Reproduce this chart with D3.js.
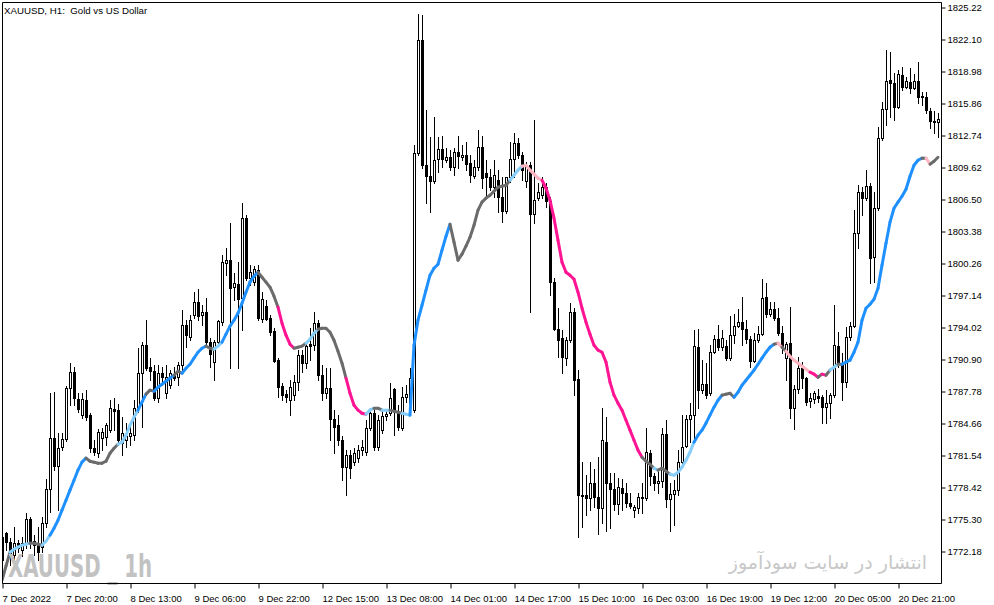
<!DOCTYPE html>
<html><head><meta charset="utf-8">
<script src="https://cdn.jsdelivr.net/npm/d3@7"></script>
<style>html,body{margin:0;padding:0;background:#fff;}svg{display:block;}</style>
</head><body>
<svg id="chart" width="994" height="605"></svg>
<script>
// ---- data (XAUUSD H1, 235 bars) ----
const open = [
1771.33,1773.96,1773.09,1771.82,1772.99,1772.31,1772.99,1775.33,1773.18,1772.79,
1772.60,1774.94,1778.25,1783.23,1780.50,1782.35,1783.13,1788.10,1789.66,1787.03,
1785.47,1786.93,1785.47,1782.25,1781.76,1783.23,1783.32,1784.01,1786.05,1785.96,
1782.74,1783.03,1783.42,1783.52,1786.15,1789.56,1792.29,1790.15,1789.76,1787.13,
1789.56,1787.61,1788.39,1789.47,1789.17,1790.34,1794.24,1793.07,1795.22,1796.49,
1795.22,1795.51,1792.59,1790.64,1792.59,1794.54,1800.29,1800.58,1797.95,1798.24,
1796.88,1804.68,1798.83,1798.44,1799.61,1794.83,1796.10,1794.93,1793.66,1790.83,
1788.30,1787.52,1786.93,1787.42,1788.69,1791.32,1790.54,1792.39,1792.29,1794.44,
1789.37,1787.61,1788.10,1785.08,1784.49,1783.03,1780.40,1781.57,1780.89,1781.28,
1782.06,1781.86,1784.20,1785.66,1782.35,1784.01,1785.37,1785.66,1788.00,1785.66,
1784.20,1787.22,1786.64,1785.96,1811.01,1822.03,1809.84,1808.77,1808.28,1810.43,
1811.40,1810.33,1810.62,1809.65,1811.11,1810.62,1810.82,1810.04,1808.77,1809.65,
1811.60,1809.06,1808.67,1807.70,1808.38,1806.72,1805.36,1808.67,1810.43,1811.99,
1810.82,1808.28,1809.84,1805.07,1806.63,1806.92,1807.70,1806.33,1798.44,1793.85,
1792.98,1791.03,1792.78,1795.51,1788.98,1777.67,1777.67,1777.38,1778.84,1777.47,
1776.40,1782.84,1778.84,1778.25,1776.79,1778.35,1777.86,1776.89,1776.21,1776.40,
1777.47,1777.38,1781.76,1779.52,1778.84,1779.03,1783.62,1777.28,1777.77,1778.16,
1780.89,1782.45,1785.08,1785.47,1792.10,1787.91,1788.49,1787.61,1791.61,1792.88,
1792.10,1792.20,1791.03,1793.27,1794.15,1794.54,1793.85,1792.88,1790.73,1792.78,
1793.37,1796.97,1795.32,1795.80,1794.93,1793.46,1791.03,1792.49,1786.15,1788.00,
1790.05,1789.08,1786.83,1787.03,1787.32,1787.22,1786.25,1786.64,1787.42,1792.20,
1790.54,1788.69,1793.07,1794.15,1803.21,1807.21,1806.63,1807.80,1800.87,1805.65,
1812.48,1815.30,1818.13,1817.84,1815.50,1818.62,1817.45,1817.94,1817.35,1818.03,
1816.57,1816.47,1815.11,1814.13,1814.04];
const high = [
1774.26,1774.06,1773.48,1774.55,1773.28,1773.57,1775.91,1775.52,1773.77,1774.55,
1775.52,1779.23,1787.61,1787.71,1783.71,1783.71,1788.30,1790.54,1790.15,1787.61,
1787.61,1787.91,1785.66,1783.03,1784.10,1784.20,1784.69,1786.93,1787.13,1786.54,
1785.27,1784.69,1784.30,1786.93,1792.00,1792.59,1794.73,1791.03,1790.34,1790.34,
1790.15,1790.34,1789.86,1790.15,1790.64,1795.71,1794.73,1795.22,1797.46,1797.75,
1796.19,1796.88,1792.98,1792.78,1794.73,1801.07,1801.75,1804.19,1799.31,1800.39,
1806.14,1804.97,1800.09,1800.00,1800.09,1797.46,1796.68,1795.22,1793.95,1791.03,
1788.59,1787.91,1788.88,1789.37,1791.81,1791.81,1792.59,1793.95,1795.51,1794.73,
1790.34,1790.05,1790.05,1785.96,1785.47,1783.42,1782.06,1782.06,1782.25,1782.54,
1783.03,1784.98,1786.15,1786.15,1785.47,1785.96,1785.96,1788.59,1788.10,1786.44,
1788.20,1788.39,1790.05,1811.79,1824.57,1824.47,1815.21,1812.57,1814.52,1812.57,
1812.67,1811.50,1811.31,1811.50,1812.67,1811.79,1812.09,1810.82,1810.33,1813.26,
1812.67,1810.33,1809.45,1810.33,1809.36,1808.67,1808.67,1812.09,1812.96,1812.48,
1811.11,1810.14,1810.14,1814.23,1808.09,1808.67,1808.09,1806.72,1798.83,1795.90,
1793.76,1793.07,1796.39,1795.90,1789.86,1780.89,1779.62,1780.89,1780.20,1781.37,
1786.15,1785.27,1779.81,1779.81,1779.33,1779.23,1778.84,1777.86,1776.69,1777.86,
1778.84,1784.20,1782.06,1779.81,1780.11,1784.20,1784.98,1778.84,1779.13,1782.06,
1785.47,1785.47,1786.64,1793.76,1793.85,1790.83,1790.54,1792.29,1793.27,1794.24,
1793.76,1792.78,1795.12,1795.32,1795.80,1796.97,1794.73,1793.17,1793.46,1794.15,
1798.73,1798.34,1796.49,1796.49,1795.90,1794.15,1792.59,1796.00,1788.39,1791.12,
1790.64,1789.17,1787.61,1787.81,1788.00,1787.42,1787.91,1787.61,1796.19,1793.56,
1791.51,1794.05,1794.54,1805.46,1807.89,1807.70,1809.36,1808.09,1807.21,1813.55,
1815.99,1821.06,1820.86,1818.81,1819.11,1819.40,1818.42,1819.30,1818.72,1819.89,
1816.96,1816.96,1815.40,1815.11,1814.91];
const low = [
1769.58,1772.31,1770.84,1771.33,1772.11,1771.72,1772.50,1772.50,1771.82,1771.33,
1772.11,1774.55,1776.01,1780.11,1776.21,1782.06,1782.93,1786.44,1786.44,1785.76,
1785.18,1784.98,1781.86,1781.57,1781.37,1782.06,1782.54,1783.81,1784.01,1782.54,
1781.57,1782.35,1782.54,1783.03,1785.76,1784.30,1789.86,1788.88,1786.93,1786.74,
1788.39,1787.13,1788.10,1788.88,1788.39,1789.86,1792.10,1792.78,1794.93,1794.73,
1794.24,1792.39,1790.15,1788.88,1792.29,1794.24,1799.12,1790.05,1796.68,1790.05,
1793.76,1798.63,1798.14,1798.14,1794.73,1794.54,1794.73,1793.27,1790.64,1787.22,
1786.93,1786.74,1785.47,1786.93,1787.91,1789.66,1790.05,1790.83,1791.81,1788.88,
1786.93,1787.13,1783.03,1781.76,1782.54,1779.13,1777.67,1779.33,1780.59,1780.89,
1781.57,1781.57,1784.01,1782.06,1782.06,1783.71,1784.98,1785.47,1783.52,1784.01,
1784.01,1786.74,1785.96,1785.76,1810.82,1809.55,1806.14,1805.26,1808.09,1809.16,
1809.65,1810.14,1809.36,1808.87,1809.55,1810.33,1809.36,1808.19,1808.58,1809.36,
1807.60,1806.72,1807.41,1806.72,1805.26,1804.29,1805.16,1808.19,1808.67,1810.53,
1808.38,1807.70,1795.51,1804.19,1806.43,1806.63,1805.75,1797.17,1793.76,1791.12,
1789.56,1790.34,1792.59,1787.42,1773.57,1774.55,1775.72,1776.21,1776.50,1773.87,
1774.94,1774.16,1774.45,1776.21,1775.82,1776.21,1776.50,1776.40,1775.52,1775.91,
1775.91,1777.18,1778.64,1778.16,1777.86,1778.45,1776.50,1774.16,1774.74,1777.67,
1780.59,1782.35,1782.84,1783.03,1786.15,1787.61,1787.13,1787.42,1791.51,1791.81,
1791.81,1790.83,1790.83,1792.49,1794.05,1792.29,1792.49,1790.15,1790.64,1792.59,
1793.27,1795.02,1795.12,1794.73,1793.27,1791.51,1788.88,1785.18,1784.10,1787.61,
1788.10,1786.44,1786.25,1786.64,1786.74,1784.69,1784.69,1785.18,1787.22,1790.15,
1786.93,1788.20,1792.78,1794.05,1801.75,1804.97,1806.43,1798.34,1798.44,1805.46,
1812.28,1813.74,1814.52,1814.23,1815.40,1817.16,1817.35,1816.86,1817.25,1815.89,
1815.69,1814.91,1813.45,1812.96,1812.57];
const close = [
1773.57,1773.09,1771.72,1772.99,1772.50,1772.99,1775.33,1773.18,1772.79,1772.11,
1774.94,1778.25,1783.23,1780.50,1782.25,1783.13,1788.10,1789.66,1787.13,1786.05,
1787.03,1785.27,1782.25,1781.86,1783.81,1783.81,1784.49,1786.15,1785.86,1783.03,
1783.71,1783.42,1783.71,1786.15,1789.56,1792.29,1790.05,1789.76,1787.13,1789.56,
1789.17,1789.17,1789.56,1789.08,1790.34,1794.24,1793.27,1794.73,1796.49,1795.12,
1795.51,1792.59,1791.42,1792.59,1794.63,1800.39,1800.58,1797.85,1798.34,1796.78,
1804.68,1798.83,1799.41,1799.70,1794.93,1796.78,1794.83,1793.56,1790.73,1788.20,
1787.42,1787.22,1788.20,1788.69,1791.32,1790.54,1792.20,1792.20,1794.44,1789.37,
1787.61,1788.10,1785.08,1784.30,1783.03,1780.40,1781.57,1780.30,1781.76,1782.06,
1782.35,1784.20,1785.66,1782.35,1784.98,1785.37,1785.57,1787.13,1785.96,1784.30,
1787.22,1787.52,1789.08,1811.01,1822.03,1809.84,1808.77,1808.28,1810.33,1811.40,
1810.43,1810.62,1809.65,1811.11,1810.72,1810.82,1809.94,1808.87,1809.65,1811.60,
1808.58,1808.67,1807.70,1808.87,1806.72,1805.36,1808.67,1810.43,1811.99,1810.82,
1809.36,1809.84,1805.07,1806.43,1807.21,1807.70,1806.33,1798.44,1793.85,1792.78,
1791.12,1792.78,1795.51,1788.88,1777.67,1777.57,1777.38,1778.84,1777.47,1776.40,
1783.03,1778.84,1778.25,1776.79,1778.45,1777.86,1776.89,1776.60,1776.50,1777.47,
1777.38,1781.86,1779.52,1778.84,1779.03,1783.62,1777.28,1777.77,1778.16,1780.89,
1782.35,1785.08,1785.47,1792.20,1787.91,1788.49,1787.42,1791.61,1792.88,1792.10,
1792.98,1791.03,1793.27,1794.15,1794.54,1793.85,1792.88,1790.73,1792.78,1793.37,
1796.88,1795.32,1795.80,1794.93,1793.46,1792.10,1792.39,1786.15,1788.00,1790.05,
1789.08,1786.74,1787.13,1787.61,1787.13,1786.25,1786.64,1787.42,1792.29,1790.54,
1788.69,1793.07,1794.15,1803.21,1807.21,1806.63,1807.80,1800.78,1805.65,1812.48,
1815.30,1818.03,1817.84,1815.50,1818.72,1817.45,1818.03,1817.35,1818.03,1816.47,
1816.47,1815.21,1814.13,1814.04,1814.33];
// smoothed moving-average indicator values
const ma = [
1769.38,1770.75,1772.11,1772.40,1772.60,1772.79,1772.89,1772.99,1772.99,1772.89,
1772.79,1773.18,1773.77,1774.45,1775.23,1776.21,1777.18,1778.16,1779.13,1780.11,
1780.89,1781.28,1780.98,1780.89,1780.79,1780.79,1780.98,1781.76,1782.25,1782.64,
1782.84,1783.52,1784.49,1785.27,1785.96,1786.74,1787.52,1787.91,1787.81,1788.20,
1788.49,1788.78,1789.08,1789.37,1789.76,1789.56,1790.05,1790.44,1791.03,1791.61,
1792.00,1792.20,1792.00,1791.90,1792.20,1792.59,1793.37,1794.15,1794.73,1795.41,
1796.39,1797.46,1798.44,1799.02,1799.41,1798.92,1798.44,1797.95,1797.07,1796.00,
1794.44,1793.27,1792.39,1792.00,1792.10,1792.20,1792.49,1792.88,1793.46,1793.85,
1793.95,1793.95,1793.56,1792.78,1791.71,1790.54,1789.08,1787.61,1786.44,1785.96,
1785.66,1785.57,1785.96,1786.15,1786.15,1785.96,1785.96,1785.96,1785.86,1785.76,
1785.66,1785.57,1785.47,1792.29,1794.73,1796.19,1797.66,1799.12,1799.80,1800.19,
1801.56,1802.92,1804.09,1802.34,1800.58,1801.17,1801.95,1802.82,1803.99,1805.46,
1806.24,1806.63,1806.92,1807.31,1807.70,1807.80,1807.89,1808.38,1808.87,1809.36,
1809.75,1809.84,1809.36,1808.97,1808.58,1808.38,1807.60,1806.43,1804.68,1802.53,
1800.39,1799.41,1799.12,1798.73,1797.46,1795.90,1794.54,1793.37,1792.29,1791.81,
1791.61,1790.64,1788.69,1787.42,1786.64,1785.96,1784.98,1784.01,1783.03,1782.06,
1781.37,1780.98,1780.69,1780.30,1780.11,1780.30,1780.01,1779.72,1779.62,1779.91,
1780.40,1781.08,1781.86,1782.84,1783.52,1784.01,1784.69,1785.47,1786.25,1786.93,
1787.42,1787.52,1787.61,1787.22,1787.71,1788.39,1788.88,1789.37,1789.86,1790.44,
1791.03,1791.61,1792.10,1792.39,1792.49,1792.10,1791.71,1791.22,1790.83,1790.54,
1790.25,1789.95,1789.66,1789.47,1789.17,1789.47,1789.37,1789.86,1790.15,1790.44,
1790.44,1790.64,1790.83,1791.61,1792.59,1794.73,1795.90,1796.29,1796.78,1797.85,
1800.09,1802.24,1804.29,1805.65,1806.24,1806.82,1807.50,1808.77,1809.84,1810.33,
1810.53,1810.53,1809.94,1810.23,1810.62];
// indicator colour state per bar, run-length: g=flat, c=weak up, b=up, p=down, l=weak down
const maStateRuns = [["g",3],["c",5],["g",3],["c",2],["b",9],["g",8],["c",5],["b",2],["g",2],["b",5],
["g",2],["b",6],["g",2],["c",2],["b",9],["g",5],["p",4],["g",3],["c",3],["g",7],["p",5],["c",2],["g",2],
["c",2],["g",3],["c",2],["b",10],["g",15],["c",3],["l",5],["p",25],["g",3],["c",1],["g",3],["c",6],["b",7],
["g",3],["b",10],["g",1],["l",1],["g",1],["l",6],["p",2],["g",1],["p",1],["g",1],["c",2],["g",1],["b",20],
["g",1],["l",1],["g",2]];
const priceTicks = ["1772.18","1775.30","1778.42","1781.54","1784.66","1787.78","1790.90","1794.02","1797.14",
"1800.26","1803.38","1806.50","1809.62","1812.74","1815.86","1818.98","1822.10","1825.22"];
const timeLabels = ["7 Dec 2022","7 Dec 20:00","8 Dec 13:00","9 Dec 06:00","9 Dec 22:00","12 Dec 15:00",
"13 Dec 08:00","14 Dec 01:00","14 Dec 17:00","15 Dec 10:00","16 Dec 03:00","16 Dec 19:00","19 Dec 12:00",
"20 Dec 05:00","20 Dec 21:00"];
const titleText = "XAUUSD, H1:  Gold vs US Dollar";
const watermark = "XAUUSD _ 1h";
const persianText = "انتشار در سایت سودآموز";

// ---- drawing ----
const n = open.length;
const state = [];
maStateRuns.forEach(([k, c]) => { for (let j = 0; j < c; j++) state.push(k); });
const stateColor = {g:"#6b6b6b", c:"#87cefa", b:"#1e90ff", p:"#ff1493", l:"#ffb6c1"};

const svg = d3.select("#chart");
const FONT = "'Liberation Sans', Arial, sans-serif";
const L = 2, T = 2, R = 941, B = 583;

const x = d3.scaleLinear().domain([0, n - 1]).range([2, 938]);
const y = d3.scaleLinear().domain([+priceTicks[0], +priceTicks[priceTicks.length - 1]]).range([551.5, 7.5]);

svg.append("rect").attr("width", 994).attr("height", 605).attr("fill", "#fff");
svg.append("clipPath").attr("id", "plotclip").append("rect")
  .attr("x", L).attr("y", T).attr("width", R - L).attr("height", B - T);

const plot = svg.append("g").attr("clip-path", "url(#plotclip)");

// candles
const candles = plot.append("g");
for (let i = 0; i < n; i++) {
  const cx = Math.round(x(i));
  const yh = Math.round(y(high[i])), yl = Math.round(y(low[i]));
  const yo = Math.round(y(open[i])), yc = Math.round(y(close[i]));
  const top = Math.min(yo, yc), bot = Math.max(yo, yc);
  candles.append("line").attr("x1", cx + 0.5).attr("x2", cx + 0.5)
    .attr("y1", yh).attr("y2", yl + 1).attr("stroke", "#000").attr("stroke-width", 1);
  if (close[i] >= open[i]) {
    candles.append("rect").attr("x", cx - 0.5).attr("y", top + 0.5)
      .attr("width", 2).attr("height", Math.max(bot - top, 0.01))
      .attr("fill", "#fff").attr("stroke", "#000").attr("stroke-width", 1);
  } else {
    candles.append("rect").attr("x", cx - 1).attr("y", top)
      .attr("width", 3).attr("height", Math.max(bot - top + 1, 1)).attr("fill", "#000");
  }
}

// indicator line
const maG = plot.append("g");
for (let i = 1; i < n; i++) {
  maG.append("line")
    .attr("x1", x(i - 1)).attr("y1", y(ma[i - 1]))
    .attr("x2", x(i)).attr("y2", y(ma[i]))
    .attr("stroke", stateColor[state[i]]).attr("stroke-width", 3)
    .attr("stroke-linecap", "round");
}

// watermarks
svg.append("text").attr("x", 8).attr("y", 577)
  .attr("font-family", "'Liberation Sans Narrow', 'DejaVu Sans Condensed', 'Liberation Sans', Arial, sans-serif")
  .attr("font-weight", "bold").attr("font-size", 32).attr("fill", "#c2c2c2")
  .attr("textLength", 144).attr("lengthAdjust", "spacingAndGlyphs")
  .text(watermark);
svg.append("text").attr("x", 927).attr("y", 569)
  .attr("text-anchor", "end")
  .attr("font-family", "'DejaVu Sans', 'Noto Sans', sans-serif")
  .attr("font-size", 19).attr("fill", "#c8c8c8")
  .text(persianText);

// frame
svg.append("path").attr("d", `M${L + 0.5},${B + 0.5}V${T + 0.5}H${R + 0.5}V${B + 0.5}H${L + 0.5}`)
  .attr("fill", "none").attr("stroke", "#000").attr("stroke-width", 1);

// right price axis
const yAxis = d3.axisRight(y).tickValues(priceTicks.map(Number))
  .tickFormat((d, i) => priceTicks[i]).tickSize(4).tickPadding(2);
const gy = svg.append("g").attr("transform", `translate(${R + 0.5},0)`).call(yAxis);
gy.select(".domain").remove();
gy.selectAll(".tick line").attr("stroke", "#000");
gy.selectAll(".tick text").attr("font-family", FONT).attr("font-size", 9.5).attr("fill", "#000");

// bottom time axis
const tickBars = d3.range(0, n, 16);
const xAxis = d3.axisBottom(x).tickValues(tickBars)
  .tickFormat((d, i) => timeLabels[i]).tickSize(5).tickPadding(7);
const gx = svg.append("g").attr("transform", `translate(0.5,${B + 0.5})`).call(xAxis);
gx.select(".domain").remove();
gx.selectAll(".tick line").attr("stroke", "#000");
gx.selectAll(".tick text").attr("text-anchor", "start").attr("x", -0.5)
  .attr("font-family", FONT).attr("font-size", 9.5).attr("fill", "#000");

// title
svg.append("text").attr("x", 4).attr("y", 13.5)
  .attr("font-family", FONT).attr("font-size", 9.7).attr("fill", "#000")
  .style("white-space", "pre").text(titleText);
</script>
</body></html>
